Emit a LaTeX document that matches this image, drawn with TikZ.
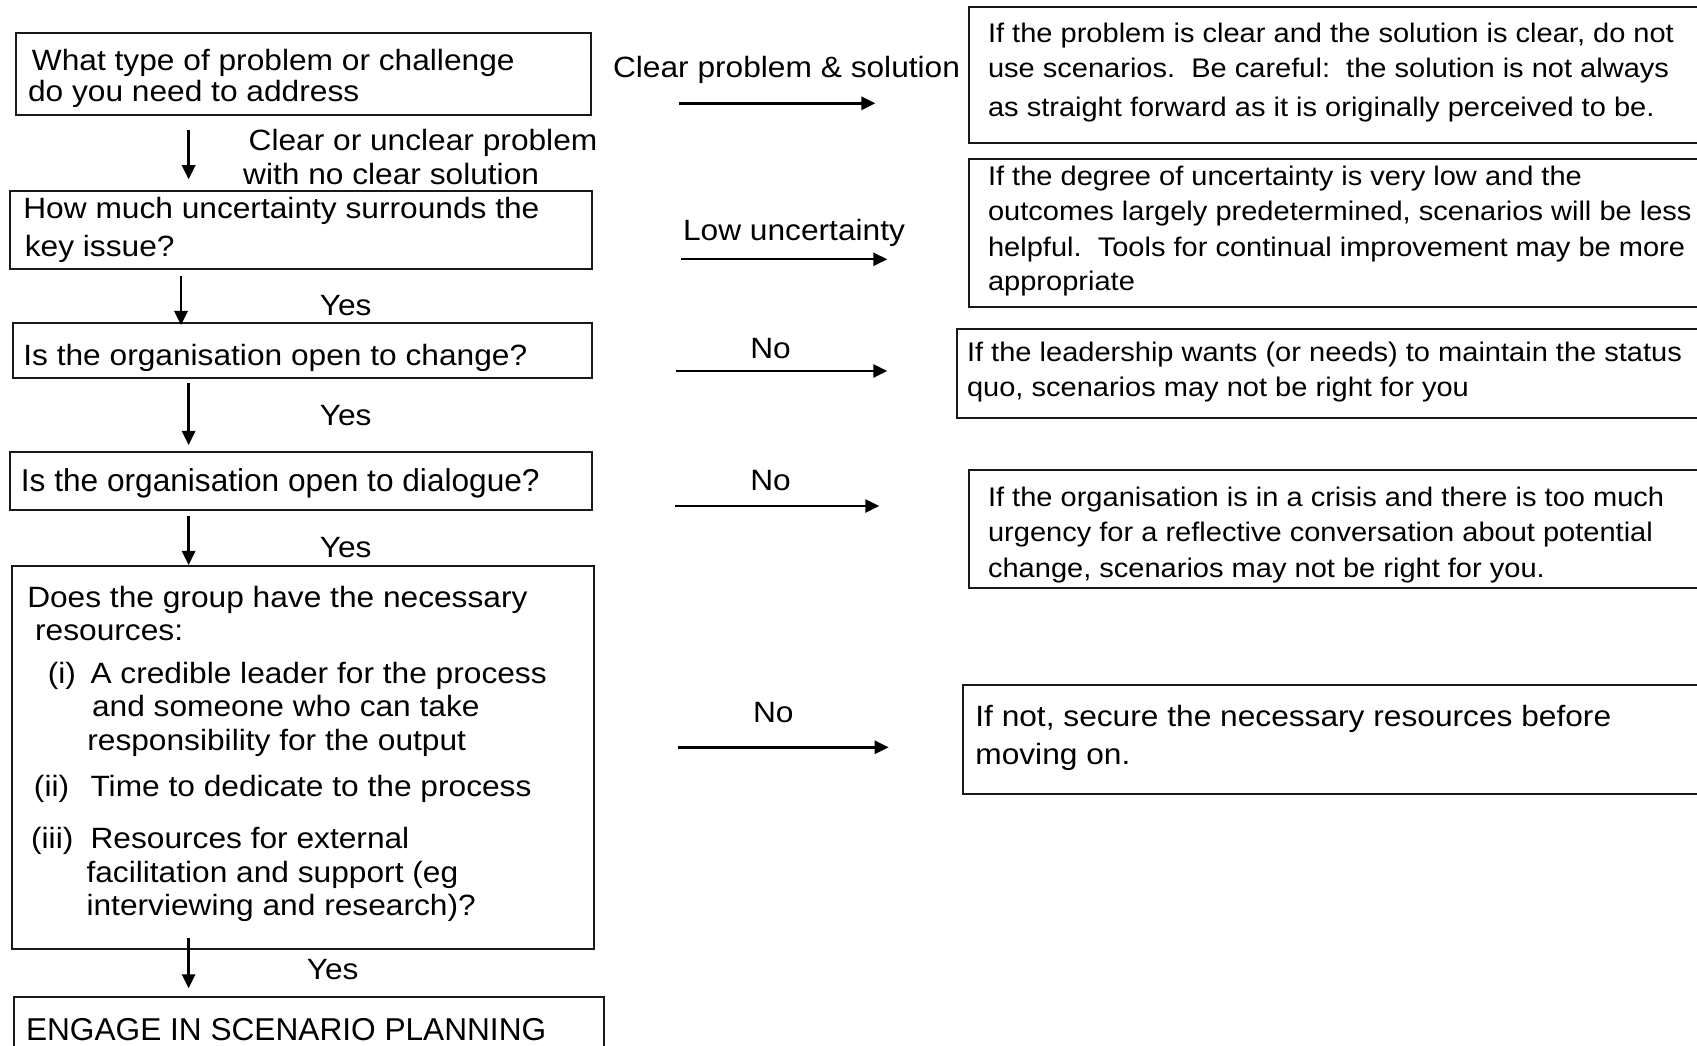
\documentclass[tikz,border=0pt]{standalone}
\usepackage{fontspec}
\setmainfont{Liberation Sans}
\newfontfamily\sfam[FakeStretch=1.08]{Liberation Sans}
\usetikzlibrary{arrows.meta,fit}
\frenchspacing
\tikzset{
  box/.style={draw=black!90, line width=1.1pt, inner sep=0pt},
  tl/.style={anchor=base west, inner sep=0pt, font=\sfam\fontsize{16.7}{18}\selectfont},
  tn/.style={anchor=base west, inner sep=0pt, font=\fontsize{18}{20}\selectfont},
  tr/.style={anchor=base west, inner sep=0pt, font=\sfam\fontsize{15.3}{17}\selectfont},
  arr/.style={line width=1.4pt, -{Triangle[length=8pt,width=7.5pt]}},
}
\begin{document}
\begin{tikzpicture}[x=0.02cm, y=-0.02cm]
\useasboundingbox (0,0) rectangle (1697,1045);
\clip (0,0) rectangle (1697,1045);
\fill[white] (0,0) rectangle (1697,1045);

% left boxes
\node[box, fit={(15.8,33.3) (590.7,115.3)}] (b1) {};
\node[box, fit={(9.9,191) (592,269.3)}] (b2) {};
\node[box, fit={(13,323.3) (592,377.7)}] (b3) {};
\node[box, fit={(9.9,451.7) (592,510)}] (b4) {};
\node[box, fit={(11.9,566) (594,949)}] (b5) {};
\node[box, fit={(13.8,996.7) (604.2,1070)}] (b6) {};

% right boxes
\node[box, fit={(969.3,6.7) (1710,143.3)}] (r1) {};
\node[box, fit={(969.3,159) (1710,306.7)}] (r2) {};
\node[box, fit={(957.3,329.3) (1710,418.3)}] (r3) {};
\node[box, fit={(969.3,470) (1710,588.3)}] (r4) {};
\node[box, fit={(962.7,685) (1710,794)}] (r5) {};

% left texts
\node[tl] (t1a) at (31.6,70) {What type of problem or challenge};
\node[tl] (t1b) at (27.7,101.7) {do you need to address};
\node[tl] (l1a) at (248.3,150) {Clear or unclear problem};
\node[tl] (l1b) at (242.8,184) {with no clear solution};
\node[tl] (t2a) at (23,218.3) {How much uncertainty surrounds the};
\node[tl] (t2b) at (24.5,256.7) {key issue?};
\node[tl] (y1) at (319.5,315) {Yes};
\node[tl] (t3) at (23,365) {Is the organisation open to change?};
\node[tl] (y2) at (319.5,425) {Yes};
\node[tn] (t4) at (20.6,491.7) {Is the organisation open to dialogue?};
\node[tl] (y3) at (319.5,557.3) {Yes};
\node[tl] (t5a) at (26.9,607.3) {Does the group have the necessary};
\node[tl] (t5b) at (34.8,640) {resources:};
\node[tl] (t5c) at (47.4,683.3) {(i)};
\node[tl] (t5c2) at (90.2,683.3) {A credible leader for the process};
\node[tl] (t5d) at (91.7,716.7) {and someone who can take};
\node[tl] (t5e) at (87,750) {responsibility for the output};
\node[tl] (t5f) at (33.6,796.7) {(ii)};
\node[tl] (t5f2) at (90.2,796.7) {Time to dedicate to the process};
\node[tl] (t5g) at (30.8,848.3) {(iii)};
\node[tl] (t5g2) at (90.2,848.3) {Resources for external};
\node[tl] (t5h) at (86.2,882.3) {facilitation and support (eg};
\node[tl] (t5i) at (86.2,915.7) {interviewing and research)?};
\node[tl] (y4) at (306.5,979.3) {Yes};
\node[tn] (t6) at (25.7,1040) {ENGAGE IN SCENARIO PLANNING};

% middle labels
\node[tl] (c1) at (612.7,77.3) {Clear problem \& solution};
\node[tl] (c2) at (682.7,240) {Low uncertainty};
\node[tl] (n1) at (750,358.3) {No};
\node[tl] (n2) at (750,490.7) {No};
\node[tl] (n3) at (752.7,722.7) {No};

% right texts
\node[tr] (r1a) at (987.7,42.7) {If the problem is clear and the solution is clear, do not};
\node[tr] (r1b) at (987.7,77.3) {use scenarios.~~Be careful:~~the solution is not always};
\node[tr] (r1c) at (987.7,116) {as straight forward as it is originally perceived to be.};
\node[tr] (r2a) at (987.7,185) {If the degree of uncertainty is very low and the};
\node[tr] (r2b) at (987.7,220.7) {outcomes largely predetermined, scenarios will be less};
\node[tr] (r2c) at (987.7,256) {helpful.~~Tools for continual improvement may be more};
\node[tr] (r2d) at (987.7,290.7) {appropriate};
\node[tr] (r3a) at (966.7,361.7) {If the leadership wants (or needs) to maintain the status};
\node[tr] (r3b) at (966.7,396.7) {quo, scenarios may not be right for you};
\node[tr] (r4a) at (987.7,506.7) {If the organisation is in a crisis and there is too much};
\node[tr] (r4b) at (987.7,541.7) {urgency for a reflective conversation about potential};
\node[tr] (r4c) at (987.7,577.7) {change, scenarios may not be right for you.};
\node[tl] (r5a) at (975,726.7) {If not, secure the necessary resources before};
\node[tl] (r5b) at (975,764) {moving on.};

% arrow end points
\coordinate (a1s) at (188.6,130);   \coordinate (a1e) at (188.6,179.3);
\coordinate (a2s) at (181,276);     \coordinate (a2e) at (181,325);
\coordinate (a3s) at (188.6,383.3); \coordinate (a3e) at (188.6,445);
\coordinate (a4s) at (188.6,516);   \coordinate (a4e) at (188.6,565);
\coordinate (a5s) at (188.6,938.3); \coordinate (a5e) at (188.6,988.3);
\coordinate (h1s) at (679.3,103.3); \coordinate (h1e) at (875.3,103.3);
\coordinate (h2s) at (681,259.3);   \coordinate (h2e) at (887.3,259.3);
\coordinate (h3s) at (676,371);     \coordinate (h3e) at (887.3,371);
\coordinate (h4s) at (675,506);     \coordinate (h4e) at (879.3,506);
\coordinate (h5s) at (678.3,747.3); \coordinate (h5e) at (888.7,747.3);

\draw[arr] (a1s) -- (a1e);
\draw[arr] (a2s) -- (a2e);
\draw[arr] (a3s) -- (a3e);
\draw[arr] (a4s) -- (a4e);
\draw[arr] (a5s) -- (a5e);
\draw[arr, line width=1.6pt] (h1s) -- (h1e);
\draw[arr, line width=1.1pt] (h2s) -- (h2e);
\draw[arr, line width=1.4pt] (h3s) -- (h3e);
\draw[arr, line width=1.4pt] (h4s) -- (h4e);
\draw[arr, line width=1.4pt] (h5s) -- (h5e);
\end{tikzpicture}
\end{document}
